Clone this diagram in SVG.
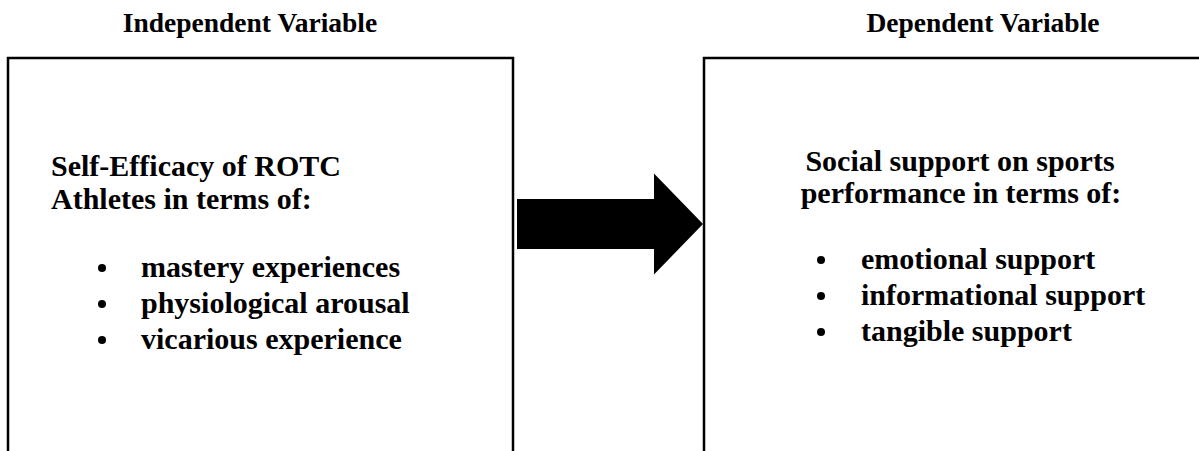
<svg xmlns="http://www.w3.org/2000/svg" width="1199" height="451" viewBox="0 0 1199 451">
<style>
.t{font-family:"Liberation Serif","Times New Roman",serif;font-weight:bold;fill:#000}
.h{font-size:27.5px}
.b{font-size:30px}
.box{fill:#fff;stroke:#000;stroke-width:2.5}
</style>
<rect width="1199" height="451" fill="#fff"/>
<g id="title-independent"><text class="t h" x="250" y="32" text-anchor="middle">Independent Variable</text></g>
<g id="title-dependent"><text class="t h" x="983" y="32" text-anchor="middle">Dependent Variable</text></g>
<g id="node-independent">
<rect class="box" x="8" y="58" width="505" height="420"/>
<text class="t b" x="51" y="176">Self-Efficacy of ROTC</text>
<text class="t b" x="51" y="209">Athletes in terms of:</text>
<circle cx="102" cy="268" r="4"/>
<circle cx="102" cy="304" r="4"/>
<circle cx="102" cy="340" r="4"/>
<text class="t b" x="141" y="277">mastery experiences</text>
<text class="t b" x="141" y="313">physiological arousal</text>
<text class="t b" x="141" y="349">vicarious experience</text>
</g>
<g id="node-dependent">
<rect class="box" x="704" y="58" width="530" height="420"/>
<text class="t b" x="960" y="171" text-anchor="middle">Social support on sports</text>
<text class="t b" x="961" y="203" text-anchor="middle">performance in terms of:</text>
<circle cx="821" cy="260" r="4"/>
<circle cx="821" cy="296" r="4"/>
<circle cx="821" cy="332" r="4"/>
<text class="t b" x="861" y="269">emotional support</text>
<text class="t b" x="861" y="305">informational support</text>
<text class="t b" x="861" y="341">tangible support</text>
</g>
<g id="connectors">
<polygon points="517,199 654,199 654,173.5 703,224 654,274.5 654,249 517,249" fill="#000"/>
</g>
</svg>
